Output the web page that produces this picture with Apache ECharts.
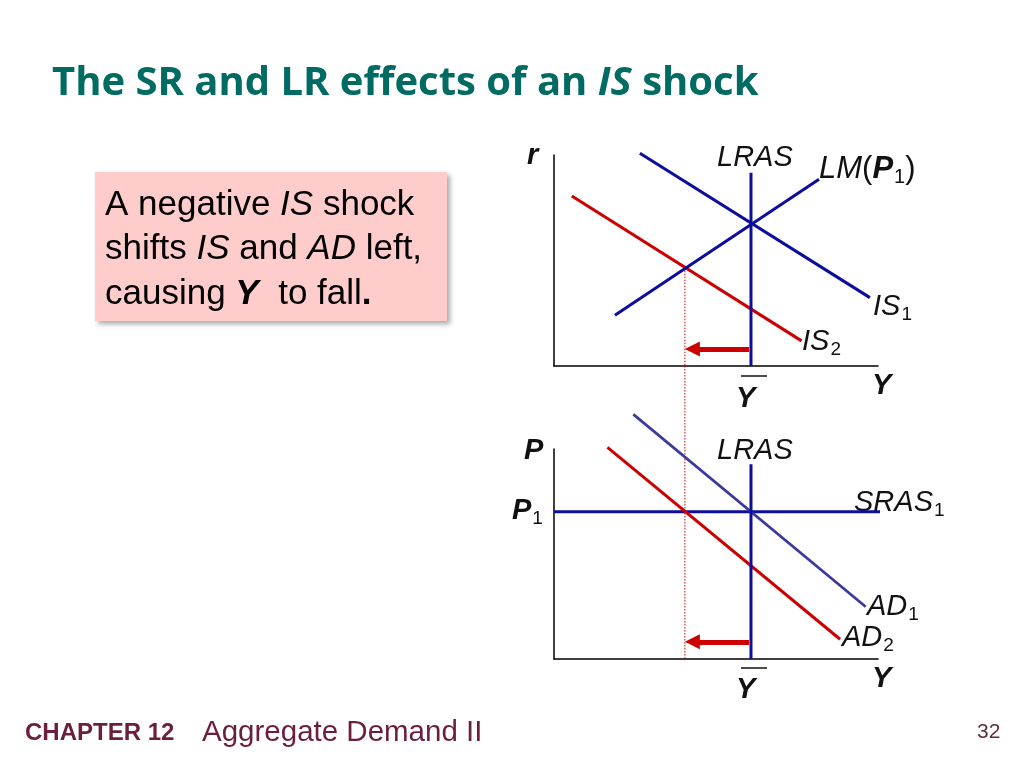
<!DOCTYPE html>
<html><head><meta charset="utf-8">
<script src="https://cdn.jsdelivr.net/npm/echarts@6/dist/echarts.min.js"></script>
<style>html,body{margin:0;padding:0;background:#fff}#c{width:1024px;height:768px}</style>
</head><body><div id="c"></div>
<script>
// ---- top panel (IS-LM), axis units 0..100 ----
const is1 = [[26.5,100.8],[97.5,32.4]];
const is2 = [[5.5,80.6],[76.4,11.9]];
const lm = [[18.8,24.0],[81.8,88.5]];
const lrasTop = [[60.8,0],[60.8,91.6]];
const dropTop = [[40.4,46.6],[40.4,0]];
const arrowTop = [[60.2,8.1],[42.7,8.1]];
// ---- bottom panel (AD-AS), axis units 0..100 ----
const ad1 = [[24.5,116.5],[96.2,24.9]];
const ad2 = [[16.5,100.8],[88.3,9.4]];
const sras1 = [[0,70.1],[102.7,70.1]];
const lrasBot = [[60.8,0],[60.8,92.7]];
const dropBot = [[40.4,139.5],[40.4,0]];
const arrowBot = [[60.2,8.2],[42.7,8.2]];

const BLUE = '#0d0d9c', RED = '#cc0000', AD1C = '#3a3a9c';
const F = '"Liberation Sans", Arial, sans-serif';

function ln(data, color, xi, w) {
  return {type:'line', data:data, xAxisIndex:xi, yAxisIndex:xi, symbol:'none', clip:false,
    lineStyle:{color:color, width:w||3}, silent:true, animation:false, z:3};
}
function dotted(data, xi) {
  return {type:'line', data:data, xAxisIndex:xi, yAxisIndex:xi, symbol:'none', clip:false,
    lineStyle:{color:RED, width:1, type:[1.5,1.5]}, silent:true, animation:false, z:2};
}
function arrow(data, xi) {
  return {type:'lines', coordinateSystem:'cartesian2d', xAxisIndex:xi, yAxisIndex:xi,
    data:[{coords:data}], symbol:['none','triangle'], symbolSize:[15,15],
    lineStyle:{color:RED, width:5, opacity:1, curveness:0}, silent:true, animation:false, z:4};
}
function axisX(gi){return {type:'value', gridIndex:gi, min:0, max:100, axisLine:{show:true, onZero:false, lineStyle:{color:'#000', width:1.5}}, axisTick:{show:false}, axisLabel:{show:false}, splitLine:{show:false}};}

function t(x,y,text,rich){
  return {type:'text', x:x, y:y, style:{text:text, fontFamily:F, fontSize:29, fill:'#111', rich:rich||{}}};
}
const R = {
  i:{fontFamily:F, fontSize:29, fontStyle:'italic', fill:'#111'},
  b:{fontFamily:F, fontSize:29, fontStyle:'italic', fontWeight:'bold', fill:'#111'},
  n:{fontFamily:F, fontSize:29, fill:'#111'},
  s:{fontFamily:F, fontSize:19, fill:'#111', padding:[15,0,0,1]}
};
const RL = {
  i:{fontFamily:F, fontSize:31, fontStyle:'italic', fill:'#111'},
  b:{fontFamily:F, fontSize:31, fontStyle:'italic', fontWeight:'bold', fill:'#111'},
  n:{fontFamily:F, fontSize:31, fill:'#111'},
  s:{fontFamily:F, fontSize:20, fill:'#111', padding:[16,0,0,1]}
};

const chart = echarts.init(document.getElementById('c'), null, {renderer:'canvas'});
chart.setOption({
  backgroundColor:'#fff',
  animation:false,
  grid:[
    {left:554, top:155, width:324, height:211},
    {left:554, top:449, width:324, height:210}
  ],
  xAxis:[axisX(0), axisX(1)],
  yAxis:[axisX(0), axisX(1)],
  series:[
    dotted(dropTop,0),
    ln(is2, RED, 0), ln(lm, BLUE, 0), ln(is1, BLUE, 0), ln(lrasTop, BLUE, 0),
    arrow(arrowTop,0),
    dotted(dropBot,1),
    ln(sras1, BLUE, 1), ln(ad1, AD1C, 1, 2.7), ln(ad2, RED, 1), ln(lrasBot, BLUE, 1),
    arrow(arrowBot,1)
  ],
  graphic:[
    // title
    {type:'text', x:52, y:64, style:{text:'The SR and LR effects of an {i|IS} shock', fontFamily:'"Open Sans", sans-serif', fontWeight:'bold', fontSize:40, fill:'#006b63',
      rich:{i:{fontFamily:'"Open Sans", sans-serif', fontWeight:'bold', fontStyle:'italic', fontSize:40, fill:'#006b63'}}}},
    // pink box
    {type:'rect', shape:{x:95, y:172, width:352, height:149}, style:{fill:'#ffcccc', shadowBlur:5, shadowOffsetX:3, shadowOffsetY:3, shadowColor:'rgba(0,0,0,0.35)'}, z:1},
    {type:'text', x:105, y:183, z:2, style:{text:'A negative {i|IS} shock\nshifts {i|IS} and {i|AD} left,\ncausing {b|Y}  to fall{bb|.}', fontFamily:F, fontSize:35, lineHeight:44.5, fill:'#000',
      rich:{i:{fontFamily:F, fontSize:35, fontStyle:'italic', fill:'#000', lineHeight:44.5},
            b:{fontFamily:F, fontSize:35, fontStyle:'italic', fontWeight:'bold', fill:'#000', lineHeight:44.5},
            bb:{fontFamily:F, fontSize:35, fontWeight:'bold', fill:'#000', lineHeight:44.5}}}},
    // top panel labels
    t(527,141,'{b|r}',R),
    t(717,143,'{i|LRAS}',R),
    t(819,151,'{i|LM}{n|(}{b|P}{s|1}{n|)}',RL),
    t(873,290,'{i|IS}{s|1}',R),
    t(802,325,'{i|IS}{s|2}',R),
    t(736,384,'{b|Y}',R),
    {type:'line', shape:{x1:741, y1:376, x2:767, y2:376}, style:{stroke:'#111', lineWidth:1.5}},
    t(872,371,'{b|Y}',R),
    // bottom panel labels
    t(524,436,'{b|P}',R),
    t(717,436,'{i|LRAS}',R),
    t(512,494,'{b|P}{s|1}',R),
    t(854,486,'{i|SRAS}{s|1}',R),
    t(867,590,'{i|AD}{s|1}',R),
    t(842,621,'{i|AD}{s|2}',R),
    t(736,675,'{b|Y}',R),
    {type:'line', shape:{x1:741, y1:668, x2:767, y2:668}, style:{stroke:'#111', lineWidth:1.5}},
    t(872,664,'{b|Y}',R),
    // footer
    {type:'text', x:25, y:721, style:{text:'CHAPTER 12', fontFamily:F, fontWeight:'bold', fontSize:24, fill:'#6b1f3f'}},
    {type:'text', x:202, y:718, style:{text:'Aggregate Demand II', fontFamily:F, fontSize:29.5, fill:'#6b1f3f'}},
    {type:'text', x:977, y:722, style:{text:'32', fontFamily:F, fontSize:21, fill:'#5a3040'}}
  ]
});
</script></body></html>
